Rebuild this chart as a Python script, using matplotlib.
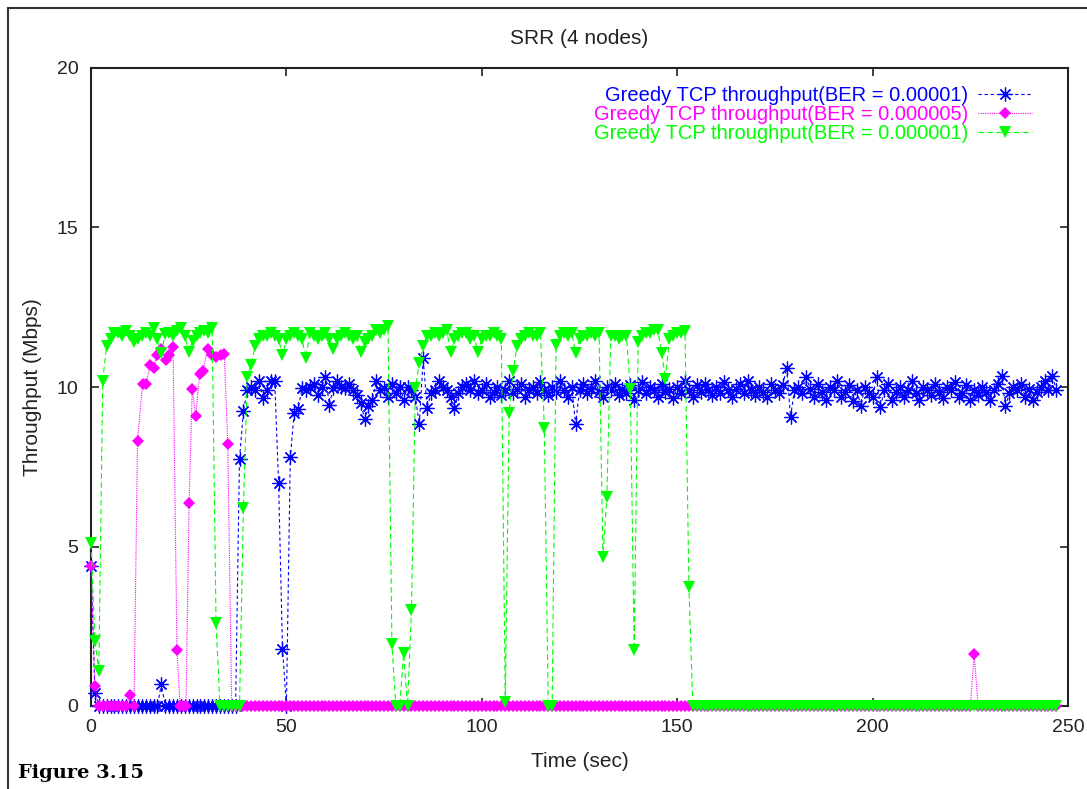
#!/usr/bin/env python3
"""
SRR (4 nodes) - greedy TCP throughput over time for three bit error rates.
Recreated in matplotlib in a gnuplot-like style.
"""

import matplotlib
matplotlib.use('Agg')
import matplotlib.pyplot as plt
from matplotlib.lines import Line2D

# Time axis (one sample per second)
time_sec = list(range(248))

# Throughput (Mbps), BER = 0.00001
blue_mbps = [
    4.4, 0.42, 0, 0, 0, 0, 0, 0, 0, 0,
    0, 0, 0, 0, 0, 0, 0, 0, 0.69, 0,
    0, 0, 0, 0, 0, 0, 0, 0, 0, 0,
    0, 0, 0, 0, 0, 0, 0, 0, 7.75, 9.25,
    9.9, 10.0, 9.9, 10.2, 9.65, 9.9, 10.2, 10.2, 7.0, 1.8,
    0, 7.8, 9.2, 9.3, 9.96, 9.9, 10.0, 10.1, 9.75, 10.0,
    10.3, 9.45, 9.96, 10.2, 10.0, 9.96, 10.1, 9.9, 9.75, 9.5,
    9.0, 9.4, 9.6, 10.2, 9.9, 9.96, 9.7, 10.1, 9.8, 10.0,
    9.6, 10.0, 9.9, 9.7, 8.83, 10.9, 9.35, 9.8, 9.9, 10.2,
    10.0, 9.9, 9.7, 9.35, 9.8, 10.0, 10.1, 9.9, 10.2, 9.8,
    9.9, 10.1, 9.7, 9.85, 10.0, 9.75, 9.9, 10.2, 9.8, 9.95,
    10.1, 9.7, 9.9, 10.0, 9.8, 10.15, 9.9, 9.75, 10.0, 9.85,
    10.2, 9.9, 9.7, 10.0, 8.84, 9.9, 10.1, 9.8, 9.95, 10.2,
    9.85, 9.7, 10.0, 9.9, 10.1, 9.75, 9.95, 9.8, 10.05, 9.6,
    9.9, 10.15, 9.8, 10.0, 9.9, 9.7, 10.1, 9.85, 9.95, 9.65,
    10.0, 9.8, 10.2, 9.9, 9.7, 10.05, 9.85, 10.1, 9.9, 9.75,
    10.0, 9.8, 10.15, 9.9, 9.7, 9.95, 10.1, 9.8, 10.2, 9.9,
    9.75, 10.0, 9.85, 9.7, 10.1, 9.9, 9.8, 10.05, 10.6, 9.06,
    9.9, 10.0, 9.8, 10.3, 9.95, 9.7, 10.1, 9.85, 9.6, 10.0,
    9.9, 10.2, 9.7, 9.85, 10.05, 9.55, 9.9, 9.4, 10.0, 9.8,
    9.7, 10.3, 9.37, 9.9, 10.1, 9.6, 9.85, 10.0, 9.7, 9.9,
    10.2, 9.8, 9.6, 10.0, 9.9, 9.75, 10.1, 9.85, 9.65, 10.0,
    9.9, 10.15, 9.7, 9.8, 10.05, 9.6, 9.9, 9.75, 10.0, 9.85,
    9.6, 9.9, 10.1, 10.35, 9.4, 9.8, 10.0, 9.9, 10.1, 9.7,
    9.95, 9.6, 9.85, 10.0, 10.2, 9.9, 10.35, 9.9,
]

# Throughput (Mbps), BER = 0.000005 (first 36 s at its own sample times)
magenta_time = [
    0, 1, 2, 3, 4, 5, 6, 7, 8, 9,
    10, 11, 11.9, 13.2, 14.0, 15.2, 16.0, 16.9, 17.9, 19.2,
    20.0, 21.0, 22.0, 22.8, 23.5, 24.3, 25.1, 25.9, 26.8, 27.8,
    28.6, 29.9, 30.9, 32.0, 33.2, 34.1, 35.0, 36.0,
] + list(range(37, 248))
magenta_mbps = [
    4.4, 0.62, 0, 0, 0, 0, 0, 0, 0, 0,
    0.35, 0, 8.3, 10.1, 10.1, 10.7, 10.6, 11.0, 11.2, 10.85,
    11.0, 11.25, 1.75, 0, 0, 0, 6.35, 9.93, 9.1, 10.4,
    10.5, 11.2, 11.0, 10.95, 11.0, 11.05, 8.2, 0,
] + [0] * 189 + [1.62] + [0] * 21

# Throughput (Mbps), BER = 0.000001
green_mbps = [
    5.1, 2.05, 1.1, 10.2, 11.3, 11.5, 11.7, 11.7, 11.6, 11.75,
    11.6, 11.4, 11.5, 11.6, 11.7, 11.6, 11.85, 11.5, 11.07, 11.65,
    11.7, 11.6, 11.75, 11.85, 11.6, 11.1, 11.45, 11.6, 11.7, 11.75,
    11.7, 11.85, 2.6, 0, 0, 0, 0, 0, 0, 6.2,
    10.3, 10.7, 11.3, 11.5, 11.6, 11.6, 11.7, 11.6, 11.5, 11.0,
    11.5, 11.6, 11.7, 11.6, 11.5, 10.9, 11.7, 11.6, 11.5, 11.6,
    11.7, 11.5, 11.2, 11.5, 11.6, 11.7, 11.6, 11.5, 11.6, 11.1,
    11.4, 11.5, 11.6, 11.8, 11.7, 11.8, 11.9, 1.95, 0, 0,
    1.65, 0, 3.0, 9.96, 10.76, 11.3, 11.6, 11.6, 11.7, 11.6,
    11.7, 11.8, 11.1, 11.5, 11.6, 11.7, 11.7, 11.5, 11.6, 11.1,
    11.5, 11.6, 11.6, 11.7, 11.6, 11.5, 0.13, 9.2, 10.5, 11.3,
    11.5, 11.6, 11.7, 11.6, 11.6, 11.7, 8.73, 0, 0, 11.33,
    11.6, 11.7, 11.6, 11.7, 11.07, 11.5, 11.6, 11.6, 11.7, 11.6,
    11.7, 4.67, 6.56, 11.6, 11.6, 11.5, 11.6, 11.6, 9.93, 1.75,
    11.4, 11.6, 11.7, 11.7, 11.8, 11.8, 11.07, 10.24, 11.5, 11.6,
    11.7, 11.7, 11.75, 3.73,
] + [0] * 94

labels = [
    'Greedy TCP throughput(BER = 0.00001)',
    'Greedy TCP throughput(BER = 0.000005)',
    'Greedy TCP throughput(BER = 0.000001)',
]
x_ticks = [0, 50, 100, 150, 200, 250]
y_ticks = [0, 5, 10, 15, 20]

plt.rcParams['font.family'] = ['Liberation Sans', 'DejaVu Sans']

fig = plt.figure(figsize=(10.87, 7.89), dpi=100)
fig.patch.set_facecolor('white')
ax = fig.add_axes([91 / 1087, 1 - 706 / 789, 977 / 1087, 638 / 789])

ax.plot(time_sec, blue_mbps, color='#0000ff', linewidth=0.8,
        linestyle=(0, (3, 2.5)), marker=(8, 2, 0), markersize=10,
        markeredgewidth=0.9, label=labels[0], zorder=3, clip_on=False)
ax.plot(magenta_time, magenta_mbps, color='#ff00ff', linewidth=0.8,
        linestyle=(0, (1, 1)), marker='D', markersize=6,
        markeredgewidth=0, label=labels[1], zorder=4, clip_on=False)
ax.plot(time_sec, green_mbps, color='#00ff00', linewidth=0.8,
        linestyle=(0, (5, 3)), marker='v', markersize=8.5,
        markeredgewidth=0, label=labels[2], zorder=5, clip_on=False)

ax.set_xlim(0, 250)
ax.set_ylim(0, 20)
ax.set_xticks(x_ticks)
ax.set_yticks(y_ticks)
ax.tick_params(direction='in', length=6, width=1.2, top=True, right=True,
               labelsize=14, pad=9, colors='#222222')
for spine in ax.spines.values():
    spine.set_linewidth(1.5)
    spine.set_color('#222222')

ax.set_title('SRR (4 nodes)', fontsize=15, y=1.047, pad=0, va='center',
             color='#222222')
ax.set_xlabel('Time (sec)', fontsize=15, color='#222222')
ax.xaxis.set_label_coords(0.5, -0.072)
ax.set_ylabel('Throughput (Mbps)', fontsize=15, color='#222222')
ax.yaxis.set_label_coords(-0.05, 0.5)

leg = ax.legend(loc='upper right', bbox_to_anchor=(1 - 28 / 977, 1 - 10 / 638),
                borderaxespad=0, frameon=False, markerfirst=False, numpoints=1,
                labelcolor='linecolor', fontsize=14.5, handlelength=2.7,
                handletextpad=0.45, labelspacing=0.0)

# outer frame (left and top edges visible in the crop)
fig.add_artist(Line2D([7.5 / 1087, 7.5 / 1087], [0, 1 - 8 / 789],
                      color='#333333', linewidth=1.5))
fig.add_artist(Line2D([7.5 / 1087, 1], [1 - 8 / 789, 1 - 8 / 789],
                      color='#333333', linewidth=1.5))

fig.text(18 / 1087, 1 - 773 / 789, 'Figure 3.15', family='DejaVu Serif',
         fontweight='bold', fontsize=14, va='center', ha='left')

fig.savefig('out.png', dpi=100, facecolor='white')
print('saved out.png')
